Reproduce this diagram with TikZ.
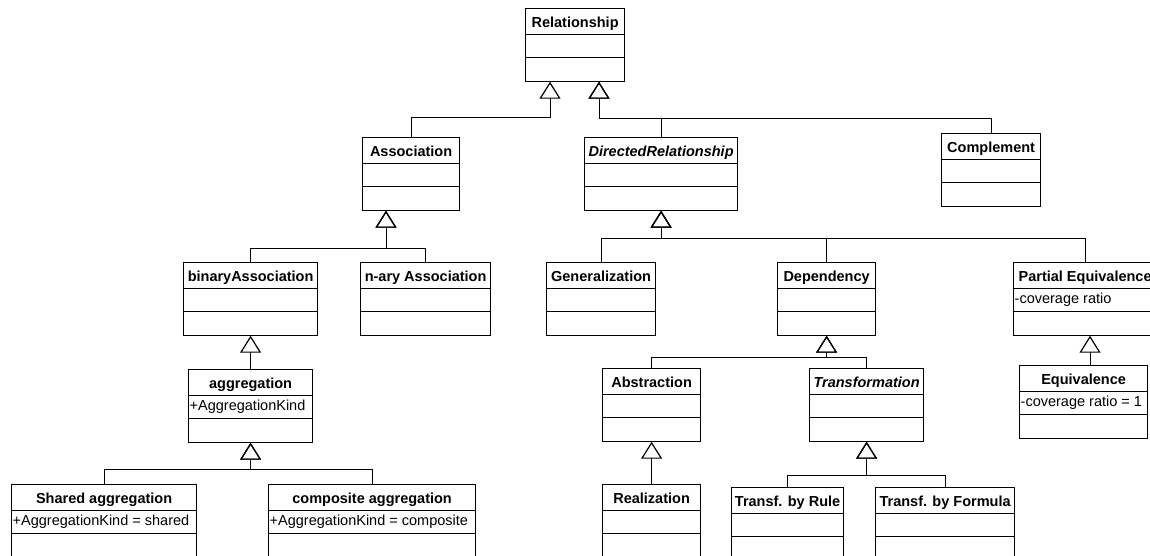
\documentclass[tikz,border=0pt]{standalone}
\usepackage{fontspec}
\setmainfont{Liberation Sans}
\usetikzlibrary{arrows.meta,calc}

\tikzset{
  classbox/.style={draw, line width=1.2pt, minimum height=72.5pt, inner sep=0pt, anchor=north west},
  classtitle/.style={font=\fontsize{14.5}{16}\selectfont\bfseries, inner sep=0pt, anchor=base},
  abstracttitle/.style={classtitle, font=\fontsize{14.5}{16}\selectfont\bfseries\itshape},
  attribute/.style={font=\fontsize{14.5}{16}\selectfont, inner sep=0pt, anchor=base west},
  divider/.style={line width=1.2pt},
  gen/.style={line width=0.9pt, -{Triangle[open, length=17pt, width=21pt, line width=1.2pt]}},
}

% \umlclass[title style]{name}{left}{top}{width}{title}{attribute}
\newcommand\umlclass[7][classtitle]{%
  \node[classbox, minimum width=#5pt] (#2) at (#3,-#4) {};
  \node[#1] (#2-title) at ($(#2.north)+(0,-19)$) {#6};
  \if\relax\detokenize{#7}\relax\else
    \node[attribute] (#2-attr) at ($(#2.north west)+(1.5,-41.5)$) {#7};
  \fi
  \draw[divider] ($(#2.north west)+(0,-26.5)$) -- ($(#2.north east)+(0,-26.5)$);
  \draw[divider] ($(#2.north west)+(0,-49.5)$) -- ($(#2.north east)+(0,-49.5)$);
}

\begin{document}
\begin{tikzpicture}[x=1pt, y=1pt]
\useasboundingbox (0,0) rectangle (1150,-555);
\clip (0,0) rectangle (1150,-555);

% classes
\umlclass{rel}{525}{8}{99}{Relationship}{}
\umlclass{assoc}{362}{137}{97}{Association}{}
\umlclass[abstracttitle]{directed}{584}{137}{153}{DirectedRelationship}{}
\umlclass{complement}{941}{133}{99}{Complement}{}

\umlclass{binary}{183}{262}{134}{binaryAssociation}{}
\umlclass{nary}{360}{262}{130}{n-ary Association}{}
\umlclass{aggregation}{188}{369}{124}{aggregation}{+AggregationKind}
\umlclass{shared}{11}{484}{185}{Shared aggregation}{+AggregationKind = shared}
\umlclass{composite}{268}{484}{207}{composite aggregation}{+AggregationKind = composite}

\umlclass{generalization}{546}{262}{109}{Generalization}{}
\umlclass{dependency}{777}{262}{98}{Dependency}{}
\umlclass{partial}{1013}{262}{143}{Partial Equivalence}{-coverage ratio}
\umlclass{equiv}{1019}{365}{128}{Equivalence}{-coverage ratio = 1}

\umlclass{abstraction}{602}{368}{98}{Abstraction}{}
\umlclass[abstracttitle]{transformation}{809}{368}{114}{Transformation}{}
\umlclass{realization}{602}{484}{98}{Realization}{}
\umlclass{rule}{731}{487}{112}{Transf. by Rule}{}
\umlclass{formula}{875}{487}{139}{Transf. by Formula}{}

% generalization connectors
\draw[gen] (assoc.north) |- ($(rel.south west)+(25,-36)$) -- ($(rel.south west)+(25,0)$);
\draw[gen] (directed.north) |- ($(rel.south west)+(74,-36.5)$) -- ($(rel.south west)+(74,0)$);
\draw[gen] (complement.north) |- ($(rel.south west)+(74,-36.5)$) -- ($(rel.south west)+(74,0)$);

\draw[gen] (binary.north) |- ($(assoc.south west)+(24,-38)$) -- ($(assoc.south west)+(24,0)$);
\draw[gen] (nary.north) |- ($(assoc.south west)+(24,-38)$) -- ($(assoc.south west)+(24,0)$);

\draw[gen] (aggregation.north) -- (binary.south);
\draw[gen] (shared.north) |- ($(aggregation.south)+(0,-27)$) -- (aggregation.south);
\draw[gen] (composite.north) |- ($(aggregation.south)+(0,-27)$) -- (aggregation.south);

\draw[gen] (generalization.north) |- ($(directed.south)+(0,-28)$) -- (directed.south);
\draw[gen] (dependency.north) |- ($(directed.south)+(0,-28)$) -- (directed.south);
\draw[gen] (partial.north) |- ($(directed.south)+(0,-28)$) -- (directed.south);

\draw[gen] ($(equiv.north west)+(71,0)$) -- ($(partial.south west)+(77,0)$);

\draw[gen] (abstraction.north) |- ($(dependency.south)+(0,-22)$) -- (dependency.south);
\draw[gen] (transformation.north) |- ($(dependency.south)+(0,-22)$) -- (dependency.south);

\draw[gen] (realization.north) -- (abstraction.south);
\draw[gen] (rule.north) |- ($(transformation.south)+(0,-34)$) -- (transformation.south);
\draw[gen] (formula.north) |- ($(transformation.south)+(0,-34)$) -- (transformation.south);
\end{tikzpicture}
\end{document}
